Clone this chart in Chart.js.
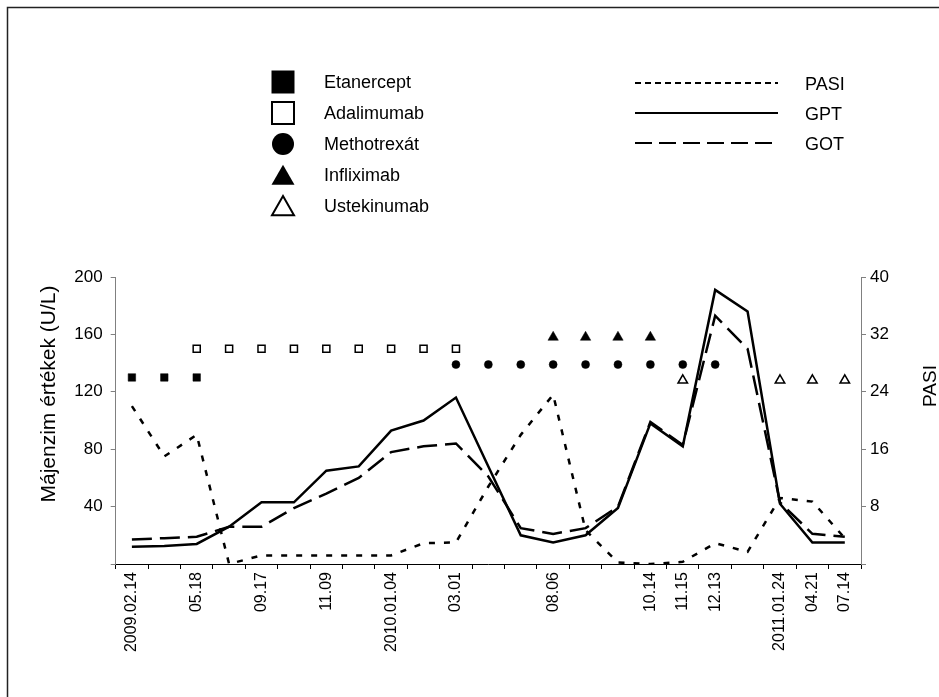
<!DOCTYPE html>
<html><head><meta charset="utf-8">
<script src="https://cdn.jsdelivr.net/npm/chart.js@4.4.1/dist/chart.umd.min.js"></script>
<style>html,body{margin:0;padding:0;background:#fff}#c{display:block}</style>
</head><body>
<canvas id="c" width="939" height="697"></canvas>
<script>
// ---- data ----
const labels = ['2009.02.14','','05.18','','09.17','','11.09','','2010.01.04','','03.01','','','08.06','','','10.14','11.15','12.13','','2011.01.24','04.21','07.14'];
const pasi = [22,15,18,0,1.2,1.2,1.2,1.2,1.2,2.9,3,10.8,18,23.6,4.7,0.2,0,0.3,2.9,1.7,9.2,8.7,3.6];
const gpt  = [12,12.5,14,26,43,43,65,68,93,100,116,68,20,15,20,39,98,82,191,176,42,15,15];
const got  = [17,18,19,26,26,39,49,60,78,82,84,61,25,21,25,40,99,83,173,150,43,21,19];
const etanercept  = [130,130,130,null,null,null,null,null,null,null,null,null,null,null,null,null,null,null,null,null,null,null,null];
const adalimumab  = [null,null,150,150,150,150,150,150,150,150,150,null,null,null,null,null,null,null,null,null,null,null,null];
const methotrexat = [null,null,null,null,null,null,null,null,null,null,139,139,139,139,139,139,139,139,139,null,null,null,null];
const infliximab  = [null,null,null,null,null,null,null,null,null,null,null,null,null,158,158,158,158,null,null,null,null,null,null];
const ustekinumab = [null,null,null,null,null,null,null,null,null,null,null,null,null,null,null,null,null,128,null,null,128,128,128];
const leftTicks = [0,40,80,120,160,200];
const rightTicks = [0,8,16,24,32,40];
const leftTitle = 'Májenzim értékek (U/L)';
const rightTitle = 'PASI';

const FONT = "'Liberation Sans', Arial, Helvetica, sans-serif";

function drawMarker(ctx, style, x, y, s, filled){
  ctx.save();
  ctx.fillStyle = filled ? '#000' : '#fff';
  ctx.strokeStyle = '#000';
  ctx.lineWidth = 2;
  ctx.beginPath();
  if (style === 'rect') {
    ctx.rect(x - s/2, y - s/2, s, s);
  } else if (style === 'circle') {
    ctx.arc(x, y, s/2, 0, Math.PI*2);
  } else if (style === 'triangle') {
    ctx.moveTo(x, y - s*0.45);
    ctx.lineTo(x + s/2, y + s*0.42);
    ctx.lineTo(x - s/2, y + s*0.42);
    ctx.closePath();
  }
  ctx.fill();
  if (!filled) ctx.stroke();
  ctx.restore();
}

const customPlugin = {
  id: 'customDecor',
  afterDraw(chart) {
    const ctx = chart.ctx;
    ctx.save();
    // outer frame
    ctx.strokeStyle = '#222';
    ctx.lineWidth = 1.5;
    ctx.strokeRect(7.5, 7.5, 1000, 1000);

    // legend: markers column
    const ds = chart.data.datasets;
    const markerSets = ds.filter(d => d.showLine === false);
    ctx.font = '18px ' + FONT;
    ctx.textBaseline = 'middle';
    ctx.textAlign = 'left';
    ctx.fillStyle = '#000';
    markerSets.forEach((d, i) => {
      const y = 82 + 31 * i;
      drawMarker(ctx, d.pointStyle, 283, y, d.legendSize, d.legendFilled);
      ctx.fillText(d.label, 324, y + 1);
    });
    // legend: lines column
    const lineSets = ds.filter(d => d.showLine !== false);
    lineSets.forEach((d, i) => {
      const y = 83 + 30 * i;
      ctx.save();
      ctx.strokeStyle = '#000';
      ctx.lineWidth = 2;
      ctx.setLineDash(d.legendDash || []);
      ctx.beginPath();
      ctx.moveTo(635, y);
      ctx.lineTo(778, y);
      ctx.stroke();
      ctx.restore();
      ctx.fillText(d.label, 805, y + 2);
    });

    // axis titles (both read bottom-to-top)
    ctx.textAlign = 'center';
    ctx.textBaseline = 'middle';
    ctx.save();
    ctx.translate(49, 394);
    ctx.rotate(-Math.PI / 2);
    ctx.font = '21px ' + FONT;
    ctx.fillText(leftTitle, 0, 0);
    ctx.restore();
    ctx.save();
    ctx.translate(931, 386);
    ctx.rotate(-Math.PI / 2);
    ctx.font = '19px ' + FONT;
    ctx.fillText(rightTitle, 0, 0);
    ctx.restore();
    ctx.restore();
  }
};

const lineCommon = { pointRadius: 0, borderColor: '#000', backgroundColor: '#000', tension: 0, fill: false, borderWidth: 2.5 };
const markCommon = { showLine: false, borderColor: '#000', yAxisID: 'y' };

new Chart(document.getElementById('c'), {
  type: 'line',
  data: {
    labels: labels,
    datasets: [
      Object.assign({ label: 'Etanercept', data: etanercept, pointStyle: 'rect', pointRadius: 5.3, backgroundColor: '#000', borderWidth: 0.5, legendSize: 23, legendFilled: true }, markCommon),
      Object.assign({ label: 'Adalimumab', data: adalimumab, pointStyle: 'rect', pointRadius: 5, backgroundColor: '#fff', borderWidth: 1.5, legendSize: 22, legendFilled: false }, markCommon),
      Object.assign({ label: 'Methotrexát', data: methotrexat, pointStyle: 'circle', pointRadius: 4, backgroundColor: '#000', borderWidth: 0.5, legendSize: 22, legendFilled: true }, markCommon),
      Object.assign({ label: 'Infliximab', data: infliximab, pointStyle: 'triangle', pointRadius: 6, backgroundColor: '#000', borderWidth: 0.5, legendSize: 23, legendFilled: true }, markCommon),
      Object.assign({ label: 'Ustekinumab', data: ustekinumab, pointStyle: 'triangle', pointRadius: 5.5, backgroundColor: '#fff', borderWidth: 1.5, legendSize: 22, legendFilled: false }, markCommon),
      Object.assign({ label: 'PASI', data: pasi, yAxisID: 'y2', borderDash: [6, 9], legendDash: [6, 4] }, lineCommon),
      Object.assign({ label: 'GPT', data: gpt, yAxisID: 'y', legendDash: [] }, lineCommon),
      Object.assign({ label: 'GOT', data: got, yAxisID: 'y', borderDash: [20, 8], legendDash: [17, 7] }, lineCommon)
    ]
  },
  options: {
    responsive: false,
    animation: false,
    events: [],
    layout: { padding: { top: 277, left: 0, right: 0, bottom: 0 } },
    plugins: { legend: { display: false }, tooltip: { enabled: false } },
    scales: {
      x: {
        type: 'category',
        offset: true,
        grid: { offset: true, drawOnChartArea: false, drawTicks: true, tickLength: 5, color: '#000', tickColor: '#000' },
        border: { color: '#000', width: 1 },
        ticks: { autoSkip: false, maxRotation: 90, minRotation: 90, padding: 3, color: '#000', font: { family: FONT, size: 16 } },
        afterFit(s) { s.height = 697 - 564; }
      },
      y: {
        position: 'left',
        min: 0, max: 200,
        afterBuildTicks(s) { s.ticks = leftTicks.map(v => ({ value: v })); },
        grid: { drawOnChartArea: false, drawTicks: true, tickLength: 5, color: '#808080', tickColor: '#808080' },
        border: { color: '#808080', width: 1 },
        ticks: { padding: 8, color: '#000', font: { family: FONT, size: 17 }, callback: v => v === 0 ? '' : String(v) },
        afterFit(s) { s.width = 115.7; }
      },
      y2: {
        position: 'right',
        min: 0, max: 40,
        afterBuildTicks(s) { s.ticks = rightTicks.map(v => ({ value: v })); },
        grid: { drawOnChartArea: false, drawTicks: true, tickLength: 5, color: '#808080', tickColor: '#808080' },
        border: { color: '#808080', width: 1 },
        ticks: { padding: 4, color: '#000', font: { family: FONT, size: 17 }, callback: v => v === 0 ? '' : String(v) },
        afterFit(s) { s.width = 939 - 861; }
      }
    }
  },
  plugins: [customPlugin]
});
</script>
</body></html>
